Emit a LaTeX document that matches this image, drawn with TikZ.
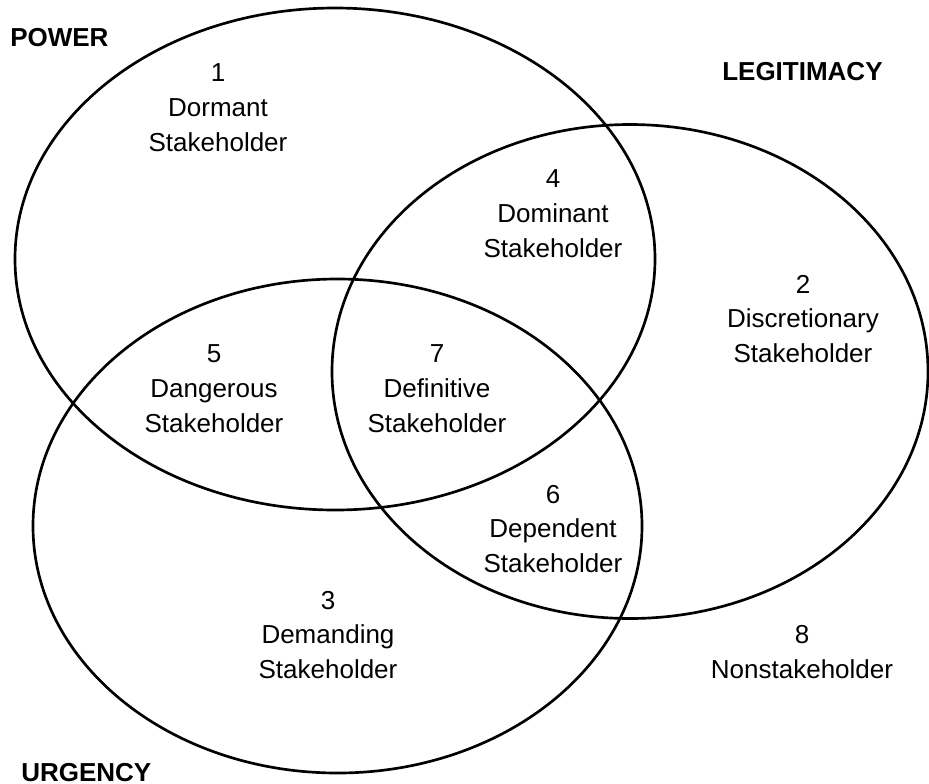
\documentclass[tikz,border=0pt]{standalone}
\usepackage{fontspec}
\setmainfont{Liberation Sans}
\usetikzlibrary{shapes.geometric}
\begin{document}
\begin{tikzpicture}[x=0.75pt,y=-0.75pt,
  setellipse/.style={ellipse,draw=black,line width=2pt,inner sep=0pt},
  region/.style={align=center,font=\fontsize{19.5}{26.2}\selectfont,inner sep=0pt},
  setlabel/.style={font=\bfseries\fontsize{19.5}{22}\selectfont,inner sep=0pt}]
\useasboundingbox (0,0) rectangle (929,783);
\node[setellipse,minimum width=480pt,minimum height=376.5pt] (power) at (335,259) {};
\node[setellipse,minimum width=447pt,minimum height=370.5pt] (legit) at (630,371.5) {};
\node[setellipse,minimum width=456.75pt,minimum height=370.5pt] (urgency) at (337.5,526) {};
\node[setlabel,anchor=west] (lpower) at (10,38) {POWER};
\node[setlabel,anchor=west] (llegit) at (722,72) {LEGITIMACY};
\node[setlabel,anchor=west] (lurg) at (21,773) {URGENCY};
\node[region] (r1) at (218,108) {1\\Dormant\\Stakeholder};
\node[region] (r4) at (553,214) {4\\Dominant\\Stakeholder};
\node[region] (r2) at (803,319) {2\\Discretionary\\Stakeholder};
\node[region] (r5) at (214,389) {5\\Dangerous\\Stakeholder};
\node[region] (r7) at (437,389) {7\\Definitive\\Stakeholder};
\node[region] (r6) at (553,529) {6\\Dependent\\Stakeholder};
\node[region] (r3) at (328,635) {3\\Demanding\\Stakeholder};
\node[region] (r8) at (802,652) {8\\Nonstakeholder};
\end{tikzpicture}
\end{document}
